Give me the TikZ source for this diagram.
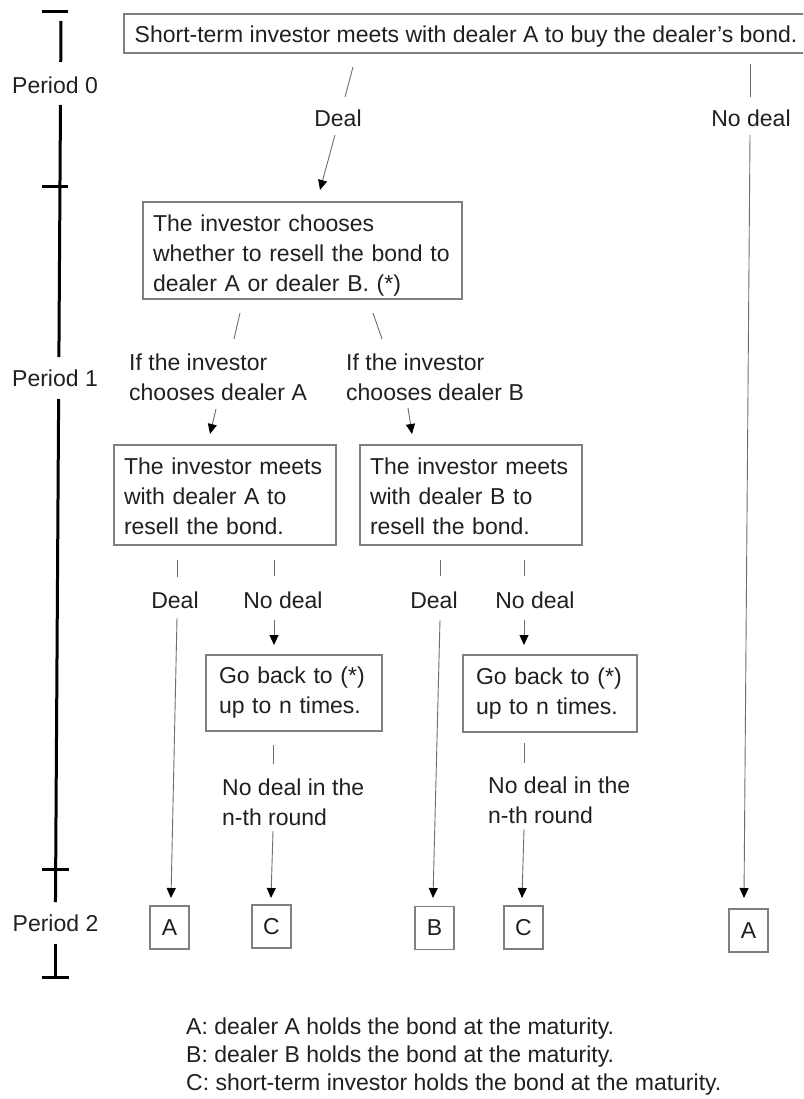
\documentclass[tikz,border=0pt]{standalone}
\usepackage{fontspec}
\setmainfont{Liberation Sans}
\usetikzlibrary{arrows.meta}
\definecolor{ink}{HTML}{231F20}
\definecolor{linegrey}{HTML}{6E6E6E}
\definecolor{boxgrey}{HTML}{7F7F7F}
\begin{document}
\begin{tikzpicture}[x=1pt,y=-1pt,
  txt/.style={font=\fontsize{23}{30}\selectfont, text=ink, inner sep=0pt},
  box/.style={txt, draw=boxgrey, line width=1.2pt},
  conn/.style={draw=linegrey, line width=0.9pt},
  arr/.style={conn, -{Triangle[length=10pt,width=9pt,color=black,fill=black]}},
  axis/.style={draw=black, line width=3pt},
  period/.style={txt},
  endbox/.style={box, minimum width=39pt, minimum height=43pt}]
\useasboundingbox (0,0) rectangle (803,1099);
\fill[white] (0,0) rectangle (803,1099);
\clip (0,0) rectangle (803,1099);

% ---- time axis ----
\draw[axis] (42,12) -- (68,12);
\draw[axis] (61,21) -- (60.74,62);
\node[period] (p0) at (55,85) {Period 0};
\draw[axis] (60.47,105) -- (58.9,357);
\draw[axis] (42,187) -- (68,187);
\node[period] (p1) at (55,378) {Period 1};
\draw[axis] (58.63,399) -- (55.47,902);
\draw[axis] (42,869) -- (69,869);
\node[period] (p2) at (55.5,923) {Period 2};
\draw[axis] (55.21,944) -- (55.21,977);
\draw[axis] (42,977) -- (69,977);

% ---- boxes ----
\node[box, minimum width=684pt, minimum height=39pt] (top) at (466,33.5)
  {\rule{0pt}{22pt}Short-term investor meets with dealer A to buy the dealer’s bond.};
\node[box, minimum width=319pt, minimum height=97pt, text width=299pt, align=left] (choose) at (302.5,250.5)
  {\rule{0pt}{27pt}The investor chooses\\whether to resell the bond to\\dealer A or dealer B. (*)};
\node[box, minimum width=222pt, minimum height=100pt, text width=202pt, align=left] (meetA) at (225,495)
  {\rule{0pt}{19pt}The investor meets\\with dealer A to\\resell the bond.};
\node[box, minimum width=222pt, minimum height=100pt, text width=202pt, align=left] (meetB) at (471,495)
  {\rule{0pt}{19pt}The investor meets\\with dealer B to\\resell the bond.};
\node[box, minimum width=176pt, minimum height=76pt, text width=150pt, align=left] (backA) at (294,693)
  {Go back to (*)\\up to n times.};
\node[box, minimum width=174pt, minimum height=77pt, text width=148pt, align=left] (backB) at (550,693.5)
  {Go back to (*)\\up to n times.};

\node[endbox] (endA) at (169.5,927.5) {A};
\node[endbox] (endC1) at (271.5,926.5) {C};
\node[endbox] (endB) at (434.5,928) {B};
\node[endbox] (endC2) at (523.5,927.5) {C};
\node[endbox] (endA2) at (748.5,930.5) {A};

% ---- labels ----
\node[txt] (ldeal0) at (338,118) {Deal};
\node[txt] (lnodeal0) at (751,118) {No deal};
\node[txt, anchor=west, align=left] (lchA) at (129,377) {If the investor\\chooses dealer A};
\node[txt, anchor=west, align=left] (lchB) at (346,377) {If the investor\\chooses dealer B};
\node[txt] (ldA) at (175,600) {Deal};
\node[txt] (lndA) at (283,600) {No deal};
\node[txt] (ldB) at (434,600) {Deal};
\node[txt] (lndB) at (535,600) {No deal};
\node[txt, anchor=west, align=left] (lnrA) at (222,802) {No deal in the\\n-th round};
\node[txt, anchor=west, align=left] (lnrB) at (488,800) {No deal in the\\n-th round};

\node[txt, font=\fontsize{23}{28}\selectfont, anchor=west, align=left] (legend) at (186,1057)
  {A: dealer A holds the bond at the maturity.\\
   B: dealer B holds the bond at the maturity.\\
   C: short-term investor holds the bond at the maturity.};

% ---- connectors ----
% top: Deal
\coordinate (t1) at (353,67);  \coordinate (t2) at (345,97);
\coordinate (t3) at (335,135); \coordinate (t4) at (320,190);
\draw[conn] (t1) -- (t2);
\draw[arr] (t3) -- (t4);
% top: No deal
\coordinate (n1) at (750,64);  \coordinate (n2) at (750,97);
\coordinate (n3) at (750,135); \coordinate (n4) at (744,898);
\draw[conn] (n1) -- (n2);
\draw[arr] (n3) -- (n4);
% choose A
\coordinate (ca1) at (240,313); \coordinate (ca2) at (234,339);
\coordinate (ca3) at (216,409); \coordinate (ca4) at (210,434);
\draw[conn] (ca1) -- (ca2);
\draw[arr] (ca3) -- (ca4);
% choose B
\coordinate (cb1) at (373,313); \coordinate (cb2) at (382,339);
\coordinate (cb3) at (408,408); \coordinate (cb4) at (412,434);
\draw[conn] (cb1) -- (cb2);
\draw[arr] (cb3) -- (cb4);
% meet A: deal
\coordinate (ad1) at (177,560); \coordinate (ad2) at (177,577);
\coordinate (ad3) at (177,618); \coordinate (ad4) at (171,898);
\draw[conn] (ad1) -- (ad2);
\draw[arr] (ad3) -- (ad4);
% meet A: no deal
\coordinate (an1) at (274,560); \coordinate (an2) at (274,576);
\coordinate (an3) at (274,620); \coordinate (an4) at (274,645);
\draw[conn] (an1) -- (an2);
\draw[arr] (an3) -- (an4);
% meet B: deal
\coordinate (bd1) at (440,560); \coordinate (bd2) at (440,576);
\coordinate (bd3) at (440,620); \coordinate (bd4) at (433,898);
\draw[conn] (bd1) -- (bd2);
\draw[arr] (bd3) -- (bd4);
% meet B: no deal
\coordinate (bn1) at (524,560); \coordinate (bn2) at (524,576);
\coordinate (bn3) at (524,620); \coordinate (bn4) at (524,645);
\draw[conn] (bn1) -- (bn2);
\draw[arr] (bn3) -- (bn4);
% back A
\coordinate (ka1) at (273,745); \coordinate (ka2) at (273,764);
\coordinate (ka3) at (273,831); \coordinate (ka4) at (271,898);
\draw[conn] (ka1) -- (ka2);
\draw[arr] (ka3) -- (ka4);
% back B
\coordinate (kb1) at (524,743); \coordinate (kb2) at (524,763);
\coordinate (kb3) at (524,829); \coordinate (kb4) at (522,898);
\draw[conn] (kb1) -- (kb2);
\draw[arr] (kb3) -- (kb4);
\end{tikzpicture}
\end{document}
